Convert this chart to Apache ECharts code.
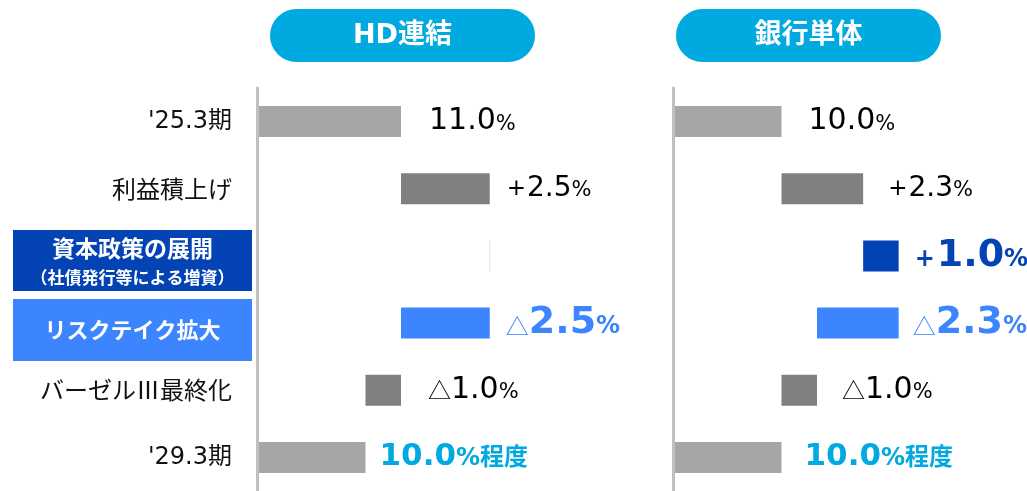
<!DOCTYPE html>
<html>
<head>
<meta charset="utf-8">
<script src="https://cdn.jsdelivr.net/npm/echarts@6/dist/echarts.min.js"></script>
<style>
html, body { margin: 0; padding: 0; background: #fff; }
#chart { width: 1027px; height: 491px; }
</style>
</head>
<body>
<div id="chart"></div>
<script>
////////////////////
// data
////////////////////
var categories = ["'25.3期", '利益積上げ', '資本政策の展開\n（社債発行等による増資）', 'リスクテイク拡大', 'バーゼルⅢ最終化', "'29.3期"];
var hdValues = [11.0, 2.5, 0, -2.5, -1.0, 10.0];
var bankValues = [10.0, 2.3, 1.0, -2.3, -1.0, 10.0];
var panelTitles = ['HD連結', '銀行単体'];
var lastSuffix = '%程度';

// styles (per row)
var barColors = ['#A6A6A6', '#808080', '#0343B4', '#3D85FF', '#808080', '#A6A6A6'];
var labelKinds = ['plain', 'plus', 'dark', 'blue', 'plain', 'cyan'];
var hdGap = [28, 17, 0, 16, 27, 14];
var bankGap = [27, 25, 16, 14, 25, 23];

var NUM_FONT = "'DejaVu Sans', 'Noto Sans CJK JP', sans-serif";
var JP_FONT = "'Noto Sans CJK JP', sans-serif";

// waterfall: invisible base + visible part
function build(values){
    var base = [], bar = [], running = 0;
    for (var i = 0; i < values.length; i++) {
        var v = values[i];
        if (i == 0 || i == values.length - 1) {
            base.push(0); bar.push(v); running = v;
        } else if (v >= 0) {
            base.push(running); bar.push(v); running += v;
        } else {
            running += v; base.push(running); bar.push(-v);
        }
    }
    return {base: base, bar: bar};
}

function labelText(values, i){
    var v = values[i];
    if (v == 0) return '';
    var num = Math.abs(v).toFixed(1);
    var kind = labelKinds[i];
    if (i == values.length - 1) return '{cn|' + num + '}{cp|' + lastSuffix + '}';
    if (kind == 'dark') return '{db|' + (v > 0 ? '+' : '△') + '}{dn|' + num + '}{dp|%}';
    if (kind == 'blue') return '{bt|' + (v > 0 ? '+' : '△') + '}{bn|' + num + '}{bp|%}';
    if (i == 0) return '{n|' + num + '}{p|%}';
    if (v > 0) return '{s|+}{m|' + num + '}{p|%}';
    return '{t|△}{n|' + num + '}{p|%}';
}

var valueRich = {
    n: {fontSize: 30, color: '#000', fontFamily: NUM_FONT, verticalAlign: 'bottom'},
    m: {fontSize: 28, color: '#000', fontFamily: NUM_FONT, verticalAlign: 'bottom'},
    p: {fontSize: 21, color: '#000', fontFamily: NUM_FONT, verticalAlign: 'bottom', padding: [0, 0, 2, 0]},
    s: {fontSize: 23, color: '#000', fontFamily: NUM_FONT, verticalAlign: 'bottom', padding: [0, 1, 2, 0]},
    t: {fontSize: 23, color: '#000', fontFamily: JP_FONT, verticalAlign: 'bottom', padding: [0, 0, 3, 0]},
    db: {fontSize: 24, color: '#0343B4', fontWeight: 'bold', fontFamily: NUM_FONT, verticalAlign: 'bottom', padding: [0, 2, 3, 0]},
    dn: {fontSize: 38, color: '#0343B4', fontWeight: 'bold', fontFamily: NUM_FONT, verticalAlign: 'bottom'},
    dp: {fontSize: 24, color: '#0343B4', fontWeight: 'bold', fontFamily: NUM_FONT, verticalAlign: 'bottom', padding: [0, 0, 3, 0]},
    bt: {fontSize: 23, color: '#3D85FF', fontFamily: JP_FONT, verticalAlign: 'bottom', padding: [0, 0, 4, 0]},
    bn: {fontSize: 38, color: '#3D85FF', fontWeight: 'bold', fontFamily: NUM_FONT, verticalAlign: 'bottom'},
    bp: {fontSize: 24, color: '#3D85FF', fontWeight: 'bold', fontFamily: NUM_FONT, verticalAlign: 'bottom', padding: [0, 0, 3, 0]},
    cn: {fontSize: 31, color: '#00A9E0', fontWeight: 'bold', fontFamily: NUM_FONT, verticalAlign: 'bottom'},
    cp: {fontSize: 24, color: '#00A9E0', fontWeight: 'bold', fontFamily: NUM_FONT, verticalAlign: 'bottom', padding: [0, 0, 2, 0]}
};

function makeSeries(values, gaps, idx){
    var w = build(values);
    var visible = w.bar.map(function(v, i){
        var item = {value: v, itemStyle: {color: barColors[i]}};
        item.label = {distance: gaps[i]};
        if (v == 0) item.itemStyle = {color: '#fff', borderColor: '#e8e8e8', borderWidth: 1};
        return item;
    });
    return [
        {
            type: 'bar', stack: 'w' + idx, xAxisIndex: idx, yAxisIndex: idx,
            barWidth: 31, silent: true,
            itemStyle: {color: 'transparent'},
            data: w.base
        },
        {
            type: 'bar', stack: 'w' + idx, xAxisIndex: idx, yAxisIndex: idx,
            barWidth: 31,
            label: {
                show: true, position: 'right',
                formatter: function(p){ return labelText(values, p.dataIndex); },
                rich: valueRich
            },
            data: visible
        }
    ];
}

var pillStyle = {
    width: 265, height: 53, lineHeight: 53, align: 'center',
    backgroundColor: '#00A9E0', borderRadius: 26.5,
    color: '#fff', fontSize: 27, fontWeight: 'bold', fontFamily: NUM_FONT
};

var mychart = echarts.init(document.getElementById('chart'));
var chart_option = {
    animation: false,
    title: [
        {text: '{p|' + panelTitles[0] + '}', left: 270, top: 9, padding: 0, textStyle: {rich: {p: pillStyle}}},
        {text: '{p|' + panelTitles[1] + '}', left: 676, top: 9, padding: 0, textStyle: {rich: {p: pillStyle}}}
    ],
    grid: [
        {left: 259, top: 88, width: 319.5, height: 410},
        {left: 675, top: 88, width: 319.5, height: 410}
    ],
    xAxis: [
        {type: 'value', gridIndex: 0, min: 7, max: 16, show: false},
        {type: 'value', gridIndex: 1, min: 7, max: 16, show: false}
    ],
    yAxis: [
        {
            type: 'category', gridIndex: 0, inverse: true, data: categories, offset: 2,
            axisLine: {show: true, lineStyle: {color: '#BFBFBF', width: 3}},
            axisTick: {show: false},
            axisLabel: {
                margin: 5,
                formatter: function(v, i){
                    if (i == 2) {
                        var parts = v.split('\n');
                        return '{sp1| }\n{b1|' + parts[0] + '}\n{b2|' + parts[1] + '}';
                    }
                    if (i == 3) return '{sp2| }\n{b3|' + v + '}';
                    if (/[^\x00-\x7F]/.test(v.replace(/期$/, ''))) return '{j|' + v + '}';
                    return '{n|' + v + '}';
                },
                rich: {
                    n: {fontSize: 24, color: '#111', fontFamily: NUM_FONT, padding: [0, 20, 0, 0]},
                    j: {fontSize: 24, color: '#111', fontFamily: JP_FONT, padding: [0, 20, 0, 0]},
                    sp1: {height: 6, lineHeight: 6, fontSize: 4},
                    sp2: {height: 14, lineHeight: 14, fontSize: 4},
                    b1: {width: 239, height: 36, lineHeight: 38, align: 'center', backgroundColor: '#0343B4',
                         color: '#fff', fontSize: 23, fontWeight: 'bold', fontFamily: JP_FONT},
                    b2: {width: 239, height: 26, lineHeight: 22, align: 'center', backgroundColor: '#0343B4',
                         color: '#fff', fontSize: 17, fontWeight: 'bold', fontFamily: JP_FONT},
                    b3: {width: 239, height: 62, lineHeight: 62, align: 'center', backgroundColor: '#3D85FF',
                         color: '#fff', fontSize: 22, fontWeight: 'bold', fontFamily: JP_FONT}
                }
            }
        },
        {
            type: 'category', gridIndex: 1, inverse: true, data: categories, offset: 2,
            axisLine: {show: true, lineStyle: {color: '#BFBFBF', width: 3}},
            axisTick: {show: false},
            axisLabel: {show: false}
        }
    ],
    series: makeSeries(hdValues, hdGap, 0).concat(makeSeries(bankValues, bankGap, 1))
};
mychart.setOption(chart_option);
</script>
</body>
</html>
